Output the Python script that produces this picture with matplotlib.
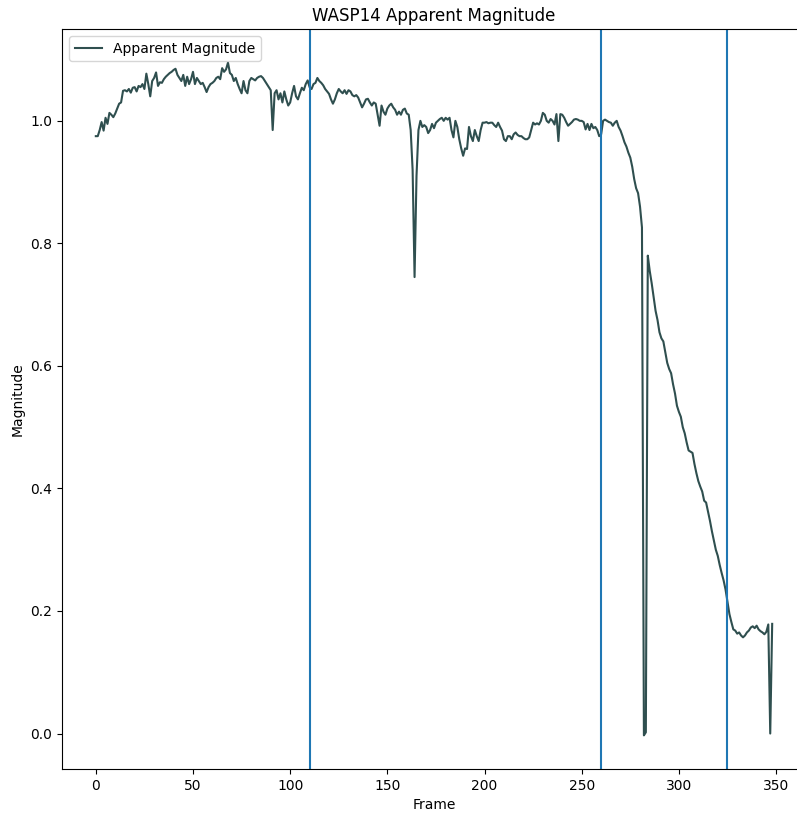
import numpy as np
import matplotlib
matplotlib.use("Agg")
import matplotlib.pyplot as plt

# apparent magnitude per frame
magnitude = [
    0.975, 0.975, 0.985, 0.998, 0.984, 1.005, 0.995, 1.013, 1.010, 1.006,
    1.012, 1.020, 1.028, 1.030, 1.049, 1.050, 1.048, 1.052, 1.046, 1.054,
    1.055, 1.048, 1.057, 1.055, 1.060, 1.052, 1.077, 1.060, 1.040, 1.065,
    1.070, 1.079, 1.057, 1.063, 1.062, 1.068, 1.072, 1.075, 1.078, 1.080,
    1.083, 1.085, 1.075, 1.070, 1.065, 1.075, 1.057, 1.072, 1.060, 1.068,
    1.080, 1.060, 1.070, 1.065, 1.060, 1.062, 1.055, 1.047, 1.055, 1.060,
    1.062, 1.065, 1.070, 1.072, 1.068, 1.086, 1.080, 1.084, 1.095, 1.078,
    1.075, 1.065, 1.070, 1.060, 1.052, 1.045, 1.065, 1.050, 1.045, 1.065,
    1.070, 1.068, 1.066, 1.070, 1.072, 1.073, 1.070, 1.065, 1.060, 1.055,
    1.050, 0.985, 1.045, 1.050, 1.035, 1.045, 1.030, 1.048, 1.035, 1.025,
    1.030, 1.045, 1.057, 1.040, 1.035, 1.045, 1.054, 1.050, 1.060, 1.066,
    1.055, 1.052, 1.060, 1.062, 1.070, 1.065, 1.062, 1.058, 1.052, 1.048,
    1.044, 1.035, 1.028, 1.035, 1.045, 1.052, 1.048, 1.045, 1.050, 1.044,
    1.050, 1.048, 1.042, 1.040, 1.042, 1.038, 1.030, 1.022, 1.028, 1.035,
    1.036, 1.030, 1.025, 1.030, 1.028, 1.010, 0.992, 1.025, 1.015, 1.010,
    1.020, 1.025, 1.028, 1.022, 1.018, 1.010, 1.015, 1.010, 1.018, 1.020,
    1.012, 1.010, 0.985, 0.920, 0.745, 0.910, 0.985, 1.000, 0.990, 0.993,
    0.990, 0.980, 0.985, 0.995, 0.988, 0.997, 1.000, 1.003, 1.005, 1.000,
    1.005, 1.002, 1.005, 0.985, 0.973, 1.000, 0.990, 0.970, 0.955, 0.943,
    0.955, 0.954, 0.990, 0.975, 0.967, 0.985, 0.975, 0.967, 0.985, 0.997,
    0.997, 0.998, 0.996, 0.997, 0.997, 0.993, 0.990, 0.997, 0.990, 0.984,
    0.970, 0.967, 0.975, 0.975, 0.970, 0.978, 0.981, 0.977, 0.975, 0.975,
    0.972, 0.970, 0.970, 0.973, 0.985, 0.997, 0.994, 0.996, 0.994, 1.000,
    1.013, 1.010, 1.000, 0.997, 1.003, 1.000, 0.994, 1.011, 0.967, 1.011,
    1.010, 1.005, 0.998, 0.992, 0.995, 0.998, 1.002, 1.003, 1.002, 1.000,
    1.000, 0.998, 0.986, 0.995, 0.985, 0.995, 0.988, 0.990, 0.985, 0.975,
    0.978, 1.000, 1.002, 1.000, 0.998, 0.997, 0.992, 0.997, 1.000, 0.990,
    0.984, 0.975, 0.965, 0.958, 0.948, 0.940, 0.925, 0.905, 0.890, 0.882,
    0.860, 0.826, -0.003, 0.002, 0.780, 0.755, 0.735, 0.712, 0.690, 0.675,
    0.655, 0.645, 0.640, 0.622, 0.605, 0.595, 0.588, 0.570, 0.555, 0.535,
    0.525, 0.517, 0.500, 0.490, 0.475, 0.462, 0.460, 0.458, 0.440, 0.425,
    0.412, 0.403, 0.395, 0.380, 0.377, 0.362, 0.347, 0.330, 0.315, 0.300,
    0.290, 0.275, 0.262, 0.250, 0.235, 0.215, 0.195, 0.182, 0.170, 0.168,
    0.163, 0.165, 0.160, 0.157, 0.160, 0.165, 0.168, 0.173, 0.175, 0.172,
    0.176, 0.170, 0.167, 0.165, 0.162, 0.166, 0.178, 0.000, 0.179,
]
frames = np.arange(len(magnitude))

# frames marked with vertical lines
marker_frames = [110, 260, 325]


def main():
    fig = plt.figure(figsize=(7.97, 8.17), dpi=100)
    # axes runs past the right edge like the (cropped) reference
    ax = fig.add_axes([62 / 797, 1 - 769 / 817, 744 / 797, 740 / 817])

    ax.plot(frames, magnitude, color='darkslategray', label='Apparent Magnitude')
    for f in marker_frames:
        ax.axvline(f)

    ax.set_title('WASP14 Apparent Magnitude')
    ax.set_xlabel('Frame')
    ax.set_ylabel('Magnitude')
    ax.legend(loc='upper left')

    fig.savefig('out.png', dpi=100)


if __name__ == '__main__':
    main()
